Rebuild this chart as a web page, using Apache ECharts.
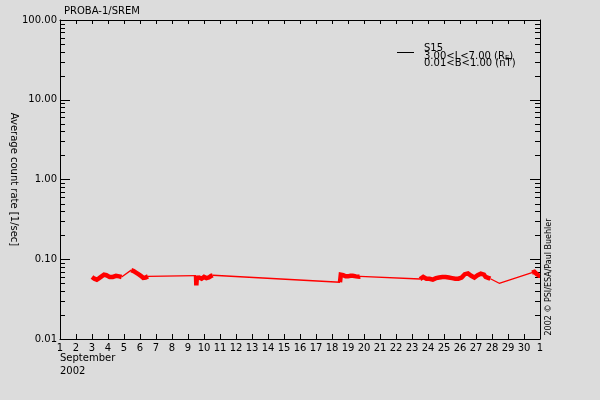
<!DOCTYPE html>
<html>
<head>
<meta charset="utf-8">
<script src="https://cdn.jsdelivr.net/npm/echarts@6/dist/echarts.min.js"></script>
<style>
html,body{margin:0;padding:0;background:#dcdcdc;}
#c{width:600px;height:400px;}
</style>
</head>
<body>
<div id="c"></div>
<script>
// ---- data (x = day of September 2002, 31 = 1 October) ----
const xTickLabels = ['1','2','3','4','5','6','7','8','9','10','11','12','13','14','15','16','17','18','19','20','21','22','23','24','25','26','27','28','29','30','1'];
const minorTickValues = [0.02,0.03,0.04,0.05,0.06,0.07,0.08,0.09,0.2,0.3,0.4,0.5,0.6,0.7,0.8,0.9,2,3,4,5,6,7,8,9,20,30,40,50,60,70,80,90];

// densely sampled measurement segments (null = gap)
const denseDays = [
  3.00,3.05,3.10,3.15,3.20,3.25,3.30,3.35,3.40,3.45,3.50,3.55,3.60,3.65,3.70,3.75,3.80,3.85,3.90,3.95,4.00,4.10,4.20,4.30,4.40,4.50,4.60,4.70,4.80,4.85,
  4.85,
  5.45,5.50,5.55,5.60,5.65,5.70,5.75,5.80,5.85,5.90,5.95,6.00,6.05,6.10,6.15,6.20,6.25,6.30,6.35,6.40,6.45,6.50,
  6.50,
  9.50,9.52,9.55,9.60,9.65,9.70,9.75,9.80,9.85,9.90,9.95,10.00,10.05,10.10,10.15,10.20,10.25,10.30,10.35,10.40,10.45,10.50,10.55,
  10.55,
  18.50,18.52,18.55,18.60,18.65,18.70,18.75,18.80,18.85,18.90,18.95,19.00,19.05,19.10,19.15,19.20,19.30,19.40,19.50,19.60,19.70,19.75,
  19.75,
  23.50,23.55,23.60,23.70,23.80,23.90,24.00,24.10,24.20,24.30,24.40,24.50,24.60,24.70,24.80,24.90,25.00,25.10,25.20,25.30,25.40,25.50,25.60,25.70,25.80,25.90,26.00,26.10,26.20,26.30,26.40,26.50,26.60,26.70,26.80,26.90,27.00,27.10,27.20,27.30,27.40,27.50,27.60,27.70,27.80,27.90,
  27.90,
  30.50,30.55,30.60,30.65,30.70,30.75,30.80,30.85,30.90,30.95,31.00
];
const denseVals = [
  0.060,0.059,0.058,0.057,0.056,0.0555,0.0555,0.056,0.057,0.058,0.059,0.060,0.061,0.062,0.063,0.064,0.065,0.064,0.063,0.062,0.061,0.060,0.061,0.060,0.061,0.062,0.060,0.061,0.059,0.060,
  null,
  0.073,0.0745,0.072,0.071,0.070,0.069,0.068,0.067,0.066,0.065,0.064,0.063,0.062,0.060,0.059,0.0585,0.058,0.0585,0.059,0.060,0.0605,0.061,
  null,
  0.0625,0.047,0.058,0.060,0.057,0.059,0.058,0.060,0.057,0.059,0.058,0.060,0.057,0.059,0.058,0.060,0.058,0.059,0.061,0.059,0.062,0.061,0.063,
  null,
  0.0515,0.0500,0.064,0.063,0.062,0.063,0.061,0.062,0.061,0.062,0.0615,0.061,0.062,0.0605,0.062,0.061,0.062,0.0605,0.061,0.062,0.0605,0.061,
  null,
  0.0565,0.058,0.059,0.060,0.058,0.057,0.058,0.057,0.056,0.0555,0.057,0.058,0.057,0.059,0.060,0.060,0.059,0.060,0.058,0.059,0.057,0.058,0.059,0.057,0.058,0.057,0.057,0.059,0.062,0.065,0.066,0.0665,0.065,0.062,0.060,0.059,0.061,0.063,0.065,0.066,0.066,0.064,0.060,0.059,0.058,0.057,
  null,
  0.068,0.069,0.070,0.0695,0.069,0.067,0.065,0.064,0.063,0.062,0.062
];

// thin connecting line across data gaps (null = gap)
const gapDays = [4.85,5.45,5.45,6.50,9.50,9.50,10.55,18.50,18.50,19.75,23.50,23.50,27.90,28.45,30.50];
const gapVals = [0.060,0.073,null,0.061,0.0625,null,0.063,0.0515,null,0.061,0.0565,null,0.057,0.050,0.068];

const seriesName = 'S15';
const legendLine2 = '3.00<L<7.00 (R{sub|E})';
const legendLine3 = '0.01<B<1.00 (nT)';

// ---- chart ----
function pairs(days, vals){ return days.map((d,i)=> vals[i]==null ? [d,'-'] : [d, vals[i]]); }
const FONT = 'DejaVu Sans';
const chart = echarts.init(document.getElementById('c'), null, {renderer:'canvas'});
const axisLine = {show:true, lineStyle:{color:'#000', width:1}};
chart.setOption({
  backgroundColor:'#dcdcdc',
  animation:false,
  title:{text:'PROBA-1/SREM', left:59, top:1, textStyle:{fontFamily:FONT, fontSize:10, fontWeight:'normal', color:'#000'}},
  grid:{left:60, right:60, top:20, bottom:61, containLabel:false, outerBoundsMode:'none'},
  xAxis:[
    {type:'value', min:1, max:31, interval:1, position:'bottom',
     axisLine:axisLine, splitLine:{show:false},
     axisTick:{inside:true, length:5, lineStyle:{color:'#000'}},
     axisLabel:{showMinLabel:true, showMaxLabel:true, margin:4, fontFamily:FONT, fontSize:10, color:'#000',
       formatter:(v)=> xTickLabels[Math.round(v)-1]}},
    {type:'value', min:1, max:31, interval:1, position:'top',
     axisLine:axisLine, splitLine:{show:false},
     axisTick:{inside:true, length:4, lineStyle:{color:'#000'}},
     axisLabel:{show:false}}
  ],
  yAxis:[
    {type:'log', logBase:10, min:0.01, max:100, position:'left',
     axisLine:axisLine, splitLine:{show:false},
     axisTick:{inside:true, length:10, lineStyle:{color:'#000'}},
     axisLabel:{margin:3, fontFamily:FONT, fontSize:10, color:'#000', formatter:(v)=> Number(v).toFixed(2)},
     name:'Average count rate [1/sec]', nameLocation:'middle', nameRotate:-90, nameGap:41, nameMoveOverlap:false,
     nameTextStyle:{fontFamily:FONT, fontSize:10, color:'#000'}},
    {type:'log', logBase:10, min:0.01, max:100, position:'right',
     axisLine:axisLine, splitLine:{show:false},
     axisTick:{inside:true, length:10, lineStyle:{color:'#000'}},
     axisLabel:{show:false}}
  ],
  series:[
    {type:'custom', name:'minorTicks', xAxisIndex:0, yAxisIndex:0, silent:true,
     data: minorTickValues.map(v=>[1, v]),
     renderItem:(params, api)=>{
       const v = api.value(1);
       const pL = api.coord([1, v]);
       const pR = api.coord([31, v]);
       const y = Math.round(pL[1]) + 0.5;
       return {type:'group', children:[
         {type:'line', shape:{x1:pL[0], y1:y, x2:pL[0]+5, y2:y}, style:{stroke:'#000', lineWidth:1}},
         {type:'line', shape:{x1:pR[0]-5, y1:y, x2:pR[0], y2:y}, style:{stroke:'#000', lineWidth:1}}
       ]};
     }},
    {type:'line', name:seriesName+' gaps', xAxisIndex:0, yAxisIndex:0, symbol:'none',
     data:pairs(gapDays, gapVals), connectNulls:false,
     lineStyle:{color:'#ff0000', width:1.3}},
    {type:'line', name:seriesName, xAxisIndex:0, yAxisIndex:0, symbol:'none',
     data:pairs(denseDays, denseVals), connectNulls:false,
     lineStyle:{color:'#ff0000', width:4.5, join:'miter'}}
  ],
  graphic:[
    {type:'line', shape:{x1:397, y1:52.5, x2:414, y2:52.5}, style:{stroke:'#000', lineWidth:1}},
    {type:'text', x:424, y:48, style:{text:seriesName, font:'10px "DejaVu Sans"', fill:'#000', verticalAlign:'middle'}},
    {type:'text', x:424, y:56, style:{text:legendLine2, font:'10px "DejaVu Sans"', fill:'#000', verticalAlign:'middle',
      rich:{sub:{fontSize:7, fontFamily:FONT, padding:[5,0,0,0]}}}},
    {type:'text', x:424, y:63.5, style:{text:legendLine3, font:'10px "DejaVu Sans"', fill:'#000', verticalAlign:'middle'}},
    {type:'text', x:60, y:358, style:{text:'September', font:'10px "DejaVu Sans"', fill:'#000', verticalAlign:'middle'}},
    {type:'text', x:60, y:371, style:{text:'2002', font:'10px "DejaVu Sans"', fill:'#000', verticalAlign:'middle'}},
    {type:'text', x:549, y:277, rotation:Math.PI/2,
     style:{text:'2002 \u00a9 PSI/ESA/Paul Buehler', font:'8px "DejaVu Sans"', fill:'#000', align:'center', verticalAlign:'middle'}}
  ]
});
</script>
</body>
</html>
